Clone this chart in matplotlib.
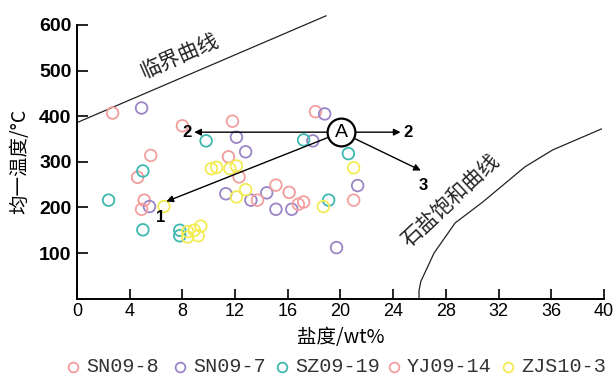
import matplotlib
matplotlib.use("Agg")
import matplotlib.pyplot as plt
from matplotlib.lines import Line2D
import numpy as np

# ---------------- data ----------------
sn09_8_x = [2.7, 8.0, 11.5, 4.6, 5.1, 18.1, 17.2, 16.1]
sn09_8_y = [407, 379, 311, 266, 216, 410, 212, 233]
yj09_14_x = [11.8, 5.6, 12.3, 4.9, 21.0, 16.8, 15.1, 13.7]
yj09_14_y = [389, 314, 267, 196, 216, 207, 249, 216]
sn09_7_x = [4.9, 12.1, 12.8, 11.3, 13.2, 5.5, 18.8, 17.9, 21.3, 16.3, 15.1, 14.4, 19.7]
sn09_7_y = [418, 354, 322, 230, 216, 202, 405, 346, 248, 196, 196, 232, 112]
sz09_19_x = [9.8, 5.0, 2.4, 5.0, 7.8, 7.8, 17.2, 20.6, 19.1]
sz09_19_y = [346, 280, 216, 151, 150, 138, 348, 318, 216]
zjs10_3_x = [10.2, 10.6, 11.6, 12.1, 12.8, 12.1, 6.6, 8.4, 8.9, 9.4, 8.4, 9.2, 21.0, 18.7]
zjs10_3_y = [285, 288, 285, 291, 239, 223, 202, 147, 150, 159, 135, 138, 287, 202]

series_names = ["SN09-8", "SN09-7", "SZ09-19", "YJ09-14", "ZJS10-3"]
series_colors = ["#f29c9c", "#9a86c6", "#3fb8b0", "#f4a0a0", "#f3ec55"]

critical_x = [0.0, 18.9]
critical_y = [386, 620]
halite_x = [25.96, 25.96, 26.1, 27.1, 28.7, 30.8, 34.0, 36.1, 39.8]
halite_y = [0, 18, 38, 100, 166, 212, 289, 326, 372]

point_A = (20.07, 365)
arrow_tips = [(6.78, 213), (8.9, 365), (24.56, 365), (26.1, 281)]
arrow_labels = ["1", "2", "2", "3"]
arrow_label_pos = [(6.35, 179), (8.35, 365), (25.15, 365), (26.3, 248)]

x_ticks = list(range(0, 41, 4))
y_ticks = [100, 200, 300, 400, 500, 600]

CJK = ["Noto Sans CJK SC", "DejaVu Sans"]

# ---------------- figure ----------------
W, H = 616, 376
fig = plt.figure(figsize=(W / 100, H / 100), dpi=100)
ax = fig.add_axes([0.125, 0.2056, 0.8555, 0.728])
ax.set_xlim(0, 40)
ax.set_ylim(0, 600)

series = [
    (sn09_8_x, sn09_8_y),
    (sn09_7_x, sn09_7_y),
    (sz09_19_x, sz09_19_y),
    (yj09_14_x, yj09_14_y),
    (zjs10_3_x, zjs10_3_y),
]
for (xs, ys), name, col in zip(series, series_names, series_colors):
    ax.scatter(xs, ys, s=70, facecolors="none", edgecolors=col, linewidths=1.3,
               label=name, zorder=3)

# curves
ax.plot(critical_x, critical_y, color="#222222", lw=0.9, clip_on=False)
ax.plot(halite_x, halite_y, color="#222222", lw=0.9, clip_on=False)

ax.text(7.8, 533, "临界曲线", rotation=23.5, fontsize=15, family=CJK,
        ha="center", va="center", color="#222222")
ax.text(28.35, 216, "石盐饱和曲线", rotation=43, fontsize=15, family=CJK,
        ha="center", va="center", color="#222222")

# point A and arrows
ax.plot([point_A[0]], [point_A[1]], marker="o", ms=20, mfc="white", mec="black",
        mew=1.6, zorder=5)
ax.text(point_A[0], point_A[1], "A", fontsize=14, ha="center", va="center",
        family="Liberation Sans", zorder=6)
for tip, lab, lp in zip(arrow_tips, arrow_labels, arrow_label_pos):
    ax.annotate("", xy=tip, xytext=point_A,
                arrowprops=dict(arrowstyle="-|>", color="black", lw=1.0,
                                shrinkA=10, shrinkB=0, mutation_scale=10),
                zorder=4)
    ax.text(lp[0], lp[1], lab, fontsize=12, fontweight="bold", ha="center",
            va="center", family="Liberation Sans")

# axes styling
for s in ["top", "right"]:
    ax.spines[s].set_visible(False)
for s in ["left", "bottom"]:
    ax.spines[s].set_linewidth(1.4)
ax.set_xticks(x_ticks)
ax.set_yticks(y_ticks)
ax.tick_params(axis="y", direction="in", length=8, width=1.2, pad=4)
ax.tick_params(axis="x", direction="in", length=7, width=1.2, pad=3)
for lab in ax.get_yticklabels():
    lab.set_fontweight("bold")
    lab.set_fontsize(14)
    lab.set_family("Liberation Sans")
for lab in ax.get_xticklabels():
    lab.set_fontsize(13)
    lab.set_family("Liberation Sans")

ax.set_ylabel("均一温度/°C", fontsize=14, family=CJK, labelpad=6)
ax.set_xlabel("盐度/wt%", fontsize=14, family=CJK, labelpad=5)

# manual legend row
marker_px = [73, 180, 282, 394, 508]
y_leg = 1 - 367 / H
for name, col, mx in zip(series_names, series_colors, marker_px):
    fig.add_artist(Line2D([mx / W], [y_leg], marker="o", ms=7, mfc="none",
                          mec=col, mew=1.3, linestyle="none",
                          transform=fig.transFigure))
    fig.text((mx + 13) / W, y_leg, name, fontsize=14.5, family="Liberation Mono",
             ha="left", va="center", color="#333333")

fig.savefig("out.png", dpi=100)
